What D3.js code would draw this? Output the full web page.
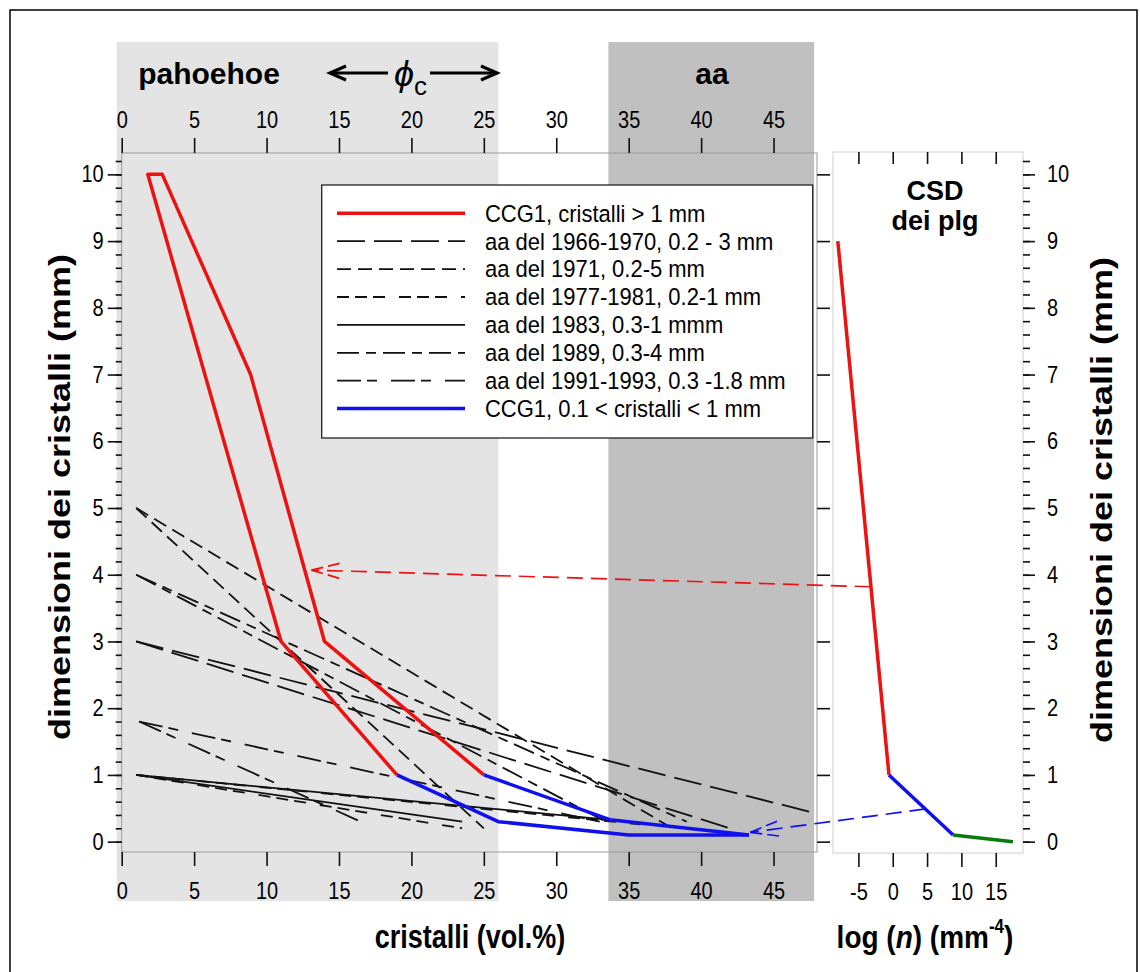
<!DOCTYPE html>
<html><head><meta charset="utf-8">
<script src="https://cdn.jsdelivr.net/npm/d3@7"></script>
<style>
body{margin:0;background:#fff;}
svg{display:block;}
text{font-family:"Liberation Sans",Arial,sans-serif;fill:#000;}
</style></head><body>
<svg id="chart" width="1140" height="972"></svg>
<script>
// ---------- data ----------
const xTicks = [0,5,10,15,20,25,30,35,40,45];
const yTicks = [0,1,2,3,4,5,6,7,8,9,10];
const yMinor = d3.range(0,10.21,0.2);
const csdTicks = [-5,0,5,10,15];
const bandPahoehoe = [-0.35, 26];
const bandAa = [33.6, 47.8];

const seriesLabels = [
  "CCG1, cristalli > 1 mm",
  "aa del 1966-1970, 0.2 - 3 mm",
  "aa del 1971, 0.2-5 mm",
  "aa del 1977-1981, 0.2-1 mm",
  "aa del 1983, 0.3-1 mmm",
  "aa del 1989, 0.3-4 mm",
  "aa del 1991-1993, 0.3 -1.8 mm",
  "CCG1, 0.1 < cristalli < 1 mm"
];
// [vol.%, size mm]
const ccgLarge = [[19,1],[11,3],[1.8,10],[2.8,10],[8.9,7],[14,3],[25,1]];
const ccgSmallA = [[19,1],[26,0.3],[35,0.1],[43.3,0.1]];
const ccgSmallB = [[25,1],[33.7,0.33],[43.3,0.1]];
const aa1966 = [[[1,3],[42,0.2]], [[1,3],[48,0.42]]];
const aa1971 = [[[1,5],[25,0.2]], [[1,5],[38,0.2]]];
const aa1977 = [[[1,1],[23.5,0.2]], [[1,1],[35.8,0.26]]];
const aa1983 = [[[1,1],[23.5,0.3]], [[1,1],[35,0.3]]];
const aa1989 = [[[1,4],[39,0.3]], [[1,4],[33.4,0.3]]];
const aa1991 = [[[1.2,1.8],[33,0.3]], [[1.2,1.8],[16.5,0.3]]];
// CSD panel: [log n, size mm]
const csdRed = [[-8,9],[-0.55,1]];
const csdBlue = [[-0.55,1],[8.8,0.1]];
const csdGreen = [[8.8,0.1],[17.5,0]];
// connector arrows: from CSD point to main-plot point
const arrowRedFrom = [-3.2,3.82], arrowRedTo = [13.1,4.07];
const arrowBlueFrom = [4.75,0.49], arrowBlueTo = [43.4,0.14];

// ---------- styles ----------
const blackStyles = [
  {dash:"28,9"},
  {dash:"14,7"},
  {dash:"12,6,12,6,12,14"},
  {dash:null},
  {dash:"22,7,10,7"},
  {dash:"24,6,10,14"}
];
const SY = 1.18; // vertical stretch of condensed-looking labels

// ---------- chart ----------
const svg = d3.select("#chart");
const x = d3.scaleLinear().domain([0,48]).range([121.7,817]);
const y = d3.scaleLinear().domain([-0.155,10.32]).range([852,153]);
const xc = d3.scaleLinear().domain([-8.7,19]).range([833,1023.2]);
const line = d3.line().x(d=>x(d[0])).y(d=>y(d[1]));
const lineC = d3.line().x(d=>xc(d[0])).y(d=>y(d[1]));
const fmt = d => String(d);

// outer border
svg.append("rect").attr("x",10).attr("y",10).attr("width",1127).attr("height",980)
  .attr("fill","none").attr("stroke","#000").attr("stroke-width",1.5);

// bands
svg.append("rect").attr("x",x(bandPahoehoe[0])).attr("y",42)
  .attr("width",x(bandPahoehoe[1])-x(bandPahoehoe[0])).attr("height",859).attr("fill","#e4e4e4");
svg.append("rect").attr("x",x(bandAa[0])).attr("y",42)
  .attr("width",x(bandAa[1])-x(bandAa[0])).attr("height",859).attr("fill","#c0c0c0");

// frames
svg.append("rect").attr("x",x(0)).attr("y",y(10.32)).attr("width",x(48)-x(0)).attr("height",y(-0.155)-y(10.32))
  .attr("fill","none").attr("stroke","#9a9a9a").attr("stroke-width",1);
svg.append("rect").attr("x",833).attr("y",152).attr("width",190).attr("height",701)
  .attr("fill","#fff").attr("stroke","#cfcfcf").attr("stroke-width",1);

function styleAxis(g, fs){
  g.select(".domain").remove();
  g.selectAll(".tick line").attr("stroke","#111").attr("stroke-width",1.6);
  g.selectAll(".tick text").attr("font-size",fs).attr("fill","#111").each(function(){
    const t=d3.select(this);
    const yy=+t.attr("y")||0;
    t.attr("y", yy/SY).attr("transform",`scale(1,${SY})`);
  });
}
// main left axis
const gl = svg.append("g").attr("transform",`translate(${x(0)},0)`)
  .call(d3.axisLeft(y).tickValues(yTicks).tickSize(14).tickPadding(4).tickFormat(fmt));
styleAxis(gl,20);
const glm = svg.append("g").attr("transform",`translate(${x(0)},0)`)
  .call(d3.axisLeft(y).tickValues(yMinor).tickSize(6).tickFormat(""));
styleAxis(glm,20);
// main right ticks
const gr = svg.append("g").attr("transform",`translate(${x(48)},0)`)
  .call(d3.axisRight(y).tickValues(yTicks).tickSize(13).tickFormat(""));
styleAxis(gr,20);
// main top axis
const gt = svg.append("g").attr("transform",`translate(0,${y(10.32)})`)
  .call(d3.axisTop(x).tickValues(xTicks).tickSize(15).tickPadding(10).tickFormat(fmt));
styleAxis(gt,20);
// main bottom axis
const gb = svg.append("g").attr("transform",`translate(0,${y(-0.155)})`)
  .call(d3.axisBottom(x).tickValues(xTicks).tickSize(14).tickPadding(16).tickFormat(fmt));
styleAxis(gb,20);
// CSD bottom axis
const gcb = svg.append("g").attr("transform",`translate(0,853)`)
  .call(d3.axisBottom(xc).tickValues(csdTicks).tickSize(14).tickPadding(16).tickFormat(fmt));
styleAxis(gcb,20);
// CSD top ticks (inside)
const gct = svg.append("g").attr("transform",`translate(0,152)`)
  .call(d3.axisBottom(xc).tickValues(csdTicks).tickSize(12).tickFormat(""));
styleAxis(gct,20);
// CSD right axis
const gcr = svg.append("g").attr("transform",`translate(1023,0)`)
  .call(d3.axisRight(y).tickValues(yTicks).tickSize(12).tickPadding(12).tickFormat(fmt));
styleAxis(gcr,20);
gcr.selectAll(".tick text").attr("text-anchor","start");
const gcrm = svg.append("g").attr("transform",`translate(1023,0)`)
  .call(d3.axisRight(y).tickValues(yMinor).tickSize(7).tickFormat(""));
styleAxis(gcrm,20);

// clip
svg.append("clipPath").attr("id","clipMain").append("rect")
  .attr("x",x(0)).attr("y",y(10.32)).attr("width",x(48)-x(0)).attr("height",y(-0.155)-y(10.32));
const plot = svg.append("g").attr("clip-path","url(#clipMain)");

const aaSeries = [aa1966, aa1971, aa1977, aa1983, aa1989, aa1991];
aaSeries.forEach((ser,i)=>{
  ser.forEach(seg=>{
    plot.append("path").attr("d",line(seg)).attr("fill","none").attr("stroke","#111")
      .attr("stroke-width",1.8).attr("stroke-dasharray",blackStyles[i].dash);
  });
});
plot.append("path").attr("d",line(ccgLarge)).attr("fill","none").attr("stroke","#ee1111").attr("stroke-width",3.5).attr("stroke-linejoin","round");
[ccgSmallA, ccgSmallB].forEach(s=>plot.append("path").attr("d",line(s)).attr("fill","none").attr("stroke","#1010ee").attr("stroke-width",3.5).attr("stroke-linejoin","round"));

// CSD lines
svg.append("path").attr("d",lineC(csdRed)).attr("fill","none").attr("stroke","#ee1111").attr("stroke-width",3.5);
svg.append("path").attr("d",lineC(csdBlue)).attr("fill","none").attr("stroke","#1010ee").attr("stroke-width",3.5);
svg.append("path").attr("d",lineC(csdGreen)).attr("fill","none").attr("stroke","#0a7a0a").attr("stroke-width",3.5);

// connector arrows
function connector(from, to, color){
  const p0=[xc(from[0]), y(from[1])], p1=[x(to[0]), y(to[1])];
  svg.append("line").attr("x1",p0[0]).attr("y1",p0[1]).attr("x2",p1[0]).attr("y2",p1[1])
    .attr("stroke",color).attr("stroke-width",1.7).attr("stroke-dasharray","16,8");
  const dx=p0[0]-p1[0], dy=p0[1]-p1[1], L=Math.hypot(dx,dy), ux=dx/L, uy=dy/L;
  [0.26,-0.26].forEach(a=>{
    const c=Math.cos(a), s=Math.sin(a), vx=ux*c-uy*s, vy=ux*s+uy*c;
    svg.append("line").attr("x1",p1[0]).attr("y1",p1[1]).attr("x2",p1[0]+vx*30).attr("y2",p1[1]+vy*30)
      .attr("stroke",color).attr("stroke-width",1.7).attr("stroke-dasharray","12,5");
  });
}
connector(arrowRedFrom, arrowRedTo, "#ee1111");
connector(arrowBlueFrom, arrowBlueTo, "#1010ee");

// legend
const lg = svg.append("g");
lg.append("rect").attr("x",321.7).attr("y",185).attr("width",491).attr("height",253)
  .attr("fill","#fff").attr("stroke","#222").attr("stroke-width",1.3);
const legendStyles = [{c:"#ee1111",w:3.5,dash:null}]
  .concat(blackStyles.map(s=>({c:"#111",w:1.8,dash:s.dash})))
  .concat([{c:"#1010ee",w:3.5,dash:null}]);
seriesLabels.forEach((lab,i)=>{
  const yy = 213.3 + i*27.9;
  lg.append("line").attr("x1",337).attr("x2",465).attr("y1",yy).attr("y2",yy)
    .attr("stroke",legendStyles[i].c).attr("stroke-width",legendStyles[i].w).attr("stroke-dasharray",legendStyles[i].dash);
  lg.append("text").attr("transform",`translate(485,${yy}) scale(1,1.08)`).attr("dy","0.35em").attr("font-size",22).text(lab);
});

// top annotations
svg.append("text").attr("x",209).attr("y",84).attr("text-anchor","middle").attr("font-size",30).attr("font-weight","bold").text("pahoehoe");
svg.append("text").attr("x",712).attr("y",84).attr("text-anchor","middle").attr("font-size",30).attr("font-weight","bold").text("aa");
const phi = svg.append("text").attr("x",394).attr("y",86).attr("font-size",36);
phi.append("tspan").attr("font-style","italic").text("ϕ");
phi.append("tspan").attr("font-size",26).attr("dy",9).text("c");
function bigArrow(x1,x2,yy){
  svg.append("line").attr("x1",x1).attr("x2",x2).attr("y1",yy).attr("y2",yy).attr("stroke","#000").attr("stroke-width",3);
  const dir = Math.sign(x2-x1);
  svg.append("path").attr("d",`M${x2-dir*16},${yy-7} L${x2},${yy} L${x2-dir*16},${yy+7}`)
    .attr("fill","none").attr("stroke","#000").attr("stroke-width",3.2).attr("stroke-linejoin","miter");
}
bigArrow(388,330,73);
bigArrow(430,497,73);

// CSD title
svg.append("text").attr("x",935).attr("y",200).attr("text-anchor","middle").attr("font-size",27).attr("font-weight","bold").text("CSD");
svg.append("text").attr("x",935).attr("y",230).attr("text-anchor","middle").attr("font-size",27).attr("font-weight","bold").text("dei plg");

// axis titles
svg.append("text").attr("transform","translate(70,497) rotate(-90) scale(1.2,1)").attr("text-anchor","middle")
  .attr("font-size",30).attr("font-weight","bold").text("dimensioni dei cristalli (mm)");
svg.append("text").attr("transform","translate(1112,500) rotate(-90) scale(1.2,1)").attr("text-anchor","middle")
  .attr("font-size",30).attr("font-weight","bold").text("dimensioni dei cristalli (mm)");
svg.append("text").attr("transform","translate(470,948) scale(1,1.2)").attr("text-anchor","middle")
  .attr("font-size",27).attr("font-weight","bold").text("cristalli (vol.%)");
const lt = svg.append("text").attr("transform","translate(925,948) scale(1,1.15)").attr("text-anchor","middle")
  .attr("font-size",28).attr("font-weight","bold");
lt.append("tspan").text("log (");
lt.append("tspan").attr("font-style","italic").text("n");
lt.append("tspan").text(") (mm");
lt.append("tspan").attr("font-size",17).attr("dy",-13).text("-4");
lt.append("tspan").attr("dy",13).text(")");
</script>
</body></html>
